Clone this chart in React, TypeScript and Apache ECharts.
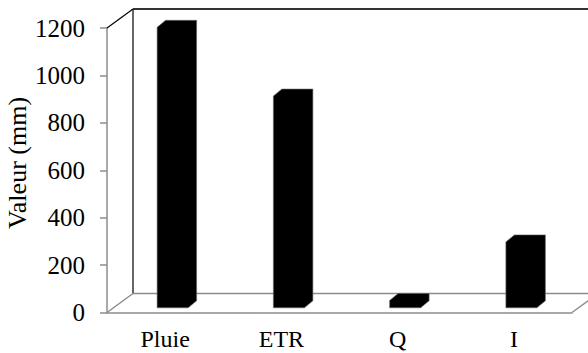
import React, { useEffect, useRef } from "react";
import * as echarts from "echarts";

const categories = ["Pluie", "ETR", "Q", "I"];
const values = [1183, 893, 31, 278];
const yMin = 0;
const yMax = 1200;
const yInterval = 200;
const yAxisTitle = "Valeur (mm)";

const FONT = "Liberation Serif";
const GREY = "#8c8c8c";
const DX = 26;
const DY = 19;

export default function App() {
  const ref = useRef<HTMLDivElement>(null);
  useEffect(() => {
    if (!ref.current) return;
    const chart = echarts.init(ref.current, null, { renderer: "svg" });
    const option: any = {
      animation: false,
      backgroundColor: "#ffffff",
      textStyle: { fontFamily: FONT },
      grid: { left: 107, right: 16, top: 28, bottom: 40.5, containLabel: false },
      xAxis: {
        type: "category",
        data: categories,
        axisLine: { show: true, lineStyle: { color: GREY, width: 1.5 } },
        axisTick: { show: false },
        axisLabel: { color: "#000", fontFamily: FONT, fontSize: 24, margin: 14 },
        splitLine: { show: false },
      },
      yAxis: {
        type: "value",
        min: yMin,
        max: yMax,
        interval: yInterval,
        axisLine: { show: true, lineStyle: { color: GREY, width: 1.5 } },
        axisTick: { show: true, length: 7, lineStyle: { color: GREY, width: 1.5 } },
        axisLabel: {
          color: "#000",
          fontFamily: FONT,
          fontSize: 25,
          margin: 22,
          formatter: (v: number) => String(v),
        },
        splitLine: { show: false },
      },
      graphic: [
        {
          type: "text",
          x: 17,
          y: 163,
          rotation: Math.PI / 2,
          style: {
            text: yAxisTitle,
            fontFamily: FONT,
            fontSize: 26,
            fill: "#000",
            align: "center",
            verticalAlign: "middle",
          },
        },
      ],
      series: [
        {
          type: "custom",
          silent: true,
          clip: false,
          z: 1,
          data: [[0, 0]],
          renderItem: (params: any) => {
            const cs = params.coordSys;
            const x0 = cs.x;
            const y0 = cs.y;
            const w = cs.width;
            const h = cs.height;
            const line = (x1: number, y1: number, x2: number, y2: number, color: string, width: number) => ({
              type: "line",
              shape: { x1, y1, x2, y2 },
              style: { stroke: color, lineWidth: width },
            });
            return {
              type: "group",
              children: [
                line(x0 + DX, y0 - DY, x0 + DX, y0 + h - DY, "#000", 1.2),
                line(x0 + DX, y0 - DY, x0 + w + DX, y0 - DY, "#333", 2.2),
                line(x0 + DX, y0 + h - DY, x0 + w + DX, y0 + h - DY, GREY, 1.5),
                line(x0, y0, x0 + DX, y0 - DY, "#000", 1.2),
                line(x0, y0 + h, x0 + DX, y0 + h - DY, GREY, 1.5),
                line(x0 + w, y0 + h, x0 + w + DX, y0 + h - DY, GREY, 1.5),
              ],
            };
          },
        },
        {
          type: "custom",
          clip: false,
          z: 5,
          data: values.map((v, i) => [i, v]),
          renderItem: (params: any, api: any) => {
            const idx = api.value(0);
            const val = api.value(1);
            const base = api.coord([idx, 0]);
            const top = api.coord([idx, val]);
            const oy = -4.7;
            const bw = 31;
            const bdx = 8.5;
            const bdy = -7;
            const xl = base[0] - 8;
            const xr = xl + bw;
            const yb = base[1] + oy;
            const yt = top[1] + oy;
            return {
              type: "polygon",
              shape: {
                points: [
                  [xl, yb],
                  [xl, yt],
                  [xl + bdx, yt + bdy],
                  [xr + bdx, yt + bdy],
                  [xr + bdx, yb + bdy],
                  [xr, yb],
                ],
              },
              style: { fill: "#000", stroke: "#6a6a6a", lineWidth: 0.6 },
            };
          },
        },
      ],
    };
    chart.setOption(option);
    return () => chart.dispose();
  }, []);
  return (
    <div
      ref={ref}
      style={{ position: "absolute", left: 0, top: 0, width: 588, height: 353, background: "#fff" }}
    />
  );
}
